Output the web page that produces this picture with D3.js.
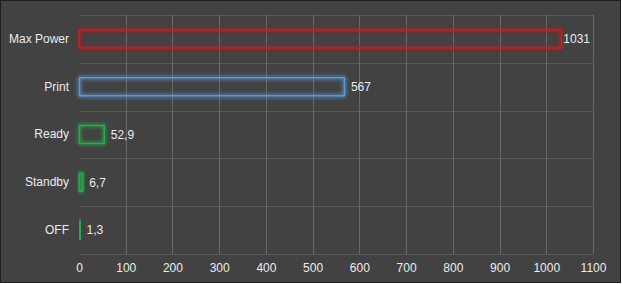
<!DOCTYPE html>
<html>
<head>
<meta charset="utf-8">
<script src="https://cdn.jsdelivr.net/npm/d3@7"></script>
<style>
  body { margin: 0; background: #fff; }
  svg { display: block; }
  text { font-family: 'Liberation Sans', Arial, sans-serif; font-size: 12px; fill: #ececec; }
</style>
</head>
<body>
<div id="chart"></div>
<script>
let categories = ['Max Power', 'Print', 'Ready', 'Standby', 'OFF']
let values = [1031, 567, 52.9, 6.7, 1.3]
let valueLabels = ['1031', '567', '52,9', '6,7', '1,3']
let barColors = ['#c42222', '#5a9ad8', '#27ad4e', '#27ad4e', '#27ad4e']
let xTicks = [0, 100, 200, 300, 400, 500, 600, 700, 800, 900, 1000, 1100]

let totalWidth = 622
let totalHeight = 284
let margin = { top: 15, left: 79, right: 29, bottom: 30 }
let width = 593 - margin.left
let height = 254 - margin.top

let root = d3
  .select('#chart')
  .append('svg')
  .attr('width', totalWidth)
  .attr('height', totalHeight)

// panel with dark border
root
  .append('rect')
  .attr('x', 0.5)
  .attr('y', 0.5)
  .attr('width', 620)
  .attr('height', 282)
  .attr('fill', '#424242')
  .attr('stroke', '#1e1e1e')

let defs = root.append('defs')
let glow = defs
  .append('filter')
  .attr('id', 'glow')
  .attr('x', '-50%')
  .attr('y', '-50%')
  .attr('width', '200%')
  .attr('height', '200%')
glow
  .append('feGaussianBlur')
  .attr('in', 'SourceGraphic')
  .attr('stdDeviation', 2)
  .attr('result', 'blur')
let merge = glow.append('feMerge')
merge.append('feMergeNode').attr('in', 'blur')
merge.append('feMergeNode').attr('in', 'blur')
merge.append('feMergeNode').attr('in', 'SourceGraphic')

let svg = root
  .append('g')
  .attr('transform', 'translate(' + margin.left + ',' + margin.top + ')')

let xPositionScale = d3.scaleLinear().domain([0, 1100]).range([0, width])
let yPositionScale = d3
  .scaleBand()
  .domain(categories)
  .range([0, height])

// horizontal grid lines at band edges
let bandEdges = categories.map(d => yPositionScale(d)).concat([height])
svg
  .selectAll('.h-grid')
  .data(bandEdges)
  .enter()
  .append('line')
  .attr('class', 'h-grid')
  .attr('x1', 0)
  .attr('x2', width)
  .attr('y1', d => Math.round(d) + 0.5)
  .attr('y2', d => Math.round(d) + 0.5)
  .attr('stroke', '#5a5a5a')

// vertical grid lines
svg
  .selectAll('.v-grid')
  .data(xTicks.slice(1))
  .enter()
  .append('line')
  .attr('class', 'v-grid')
  .attr('x1', d => Math.round(xPositionScale(d)) + 0.5)
  .attr('x2', d => Math.round(xPositionScale(d)) + 0.5)
  .attr('y1', 0)
  .attr('y2', height)
  .attr('stroke', '#686868')

// x axis labels
let xAxis = d3
  .axisBottom(xPositionScale)
  .tickValues(xTicks)
  .tickFormat(d3.format('d'))
  .tickSize(0)
  .tickPadding(9)
svg
  .append('g')
  .attr('class', 'axis x-axis')
  .attr('transform', 'translate(0,' + height + ')')
  .call(xAxis)
  .call(g => g.select('.domain').remove())
  .selectAll('text')
  .attr('fill', '#ececec')
  .attr('font-size', 12)
  .attr('font-family', "'Liberation Sans', Arial, sans-serif")

// y axis labels
let yAxis = d3.axisLeft(yPositionScale).tickSize(0).tickPadding(10)
svg
  .append('g')
  .attr('class', 'axis y-axis')
  .call(yAxis)
  .call(g => g.select('.domain').remove())
  .selectAll('text')
  .attr('fill', '#ececec')
  .attr('font-size', 12)
  .attr('font-family', "'Liberation Sans', Arial, sans-serif")

let barHeight = 18

// bars: outlined with glow
svg
  .selectAll('.bar')
  .data(values)
  .enter()
  .append('rect')
  .attr('class', 'bar')
  .attr('x', 0.5)
  .attr('y', (d, i) => yPositionScale(categories[i]) + yPositionScale.bandwidth() / 2 - barHeight / 2)
  .attr('width', d => Math.max(xPositionScale(d), 1))
  .attr('height', barHeight)
  .attr('fill', (d, i) => (xPositionScale(d) < 2 ? barColors[i] : 'none'))
  .attr('stroke', (d, i) => barColors[i])
  .attr('stroke-width', 1.4)
  .attr('filter', 'url(#glow)')

// value labels, kept inside the plot on the right
svg
  .selectAll('.value-label')
  .data(values)
  .enter()
  .append('text')
  .attr('class', 'value-label')
  .attr('y', (d, i) => yPositionScale(categories[i]) + yPositionScale.bandwidth() / 2)
  .attr('dy', '0.35em')
  .text((d, i) => valueLabels[i])
  .attr('x', function(d) {
    let len = this.getComputedTextLength()
    return Math.min(xPositionScale(d) + 7, width - 3 - len)
  })
</script>
</body>
</html>
